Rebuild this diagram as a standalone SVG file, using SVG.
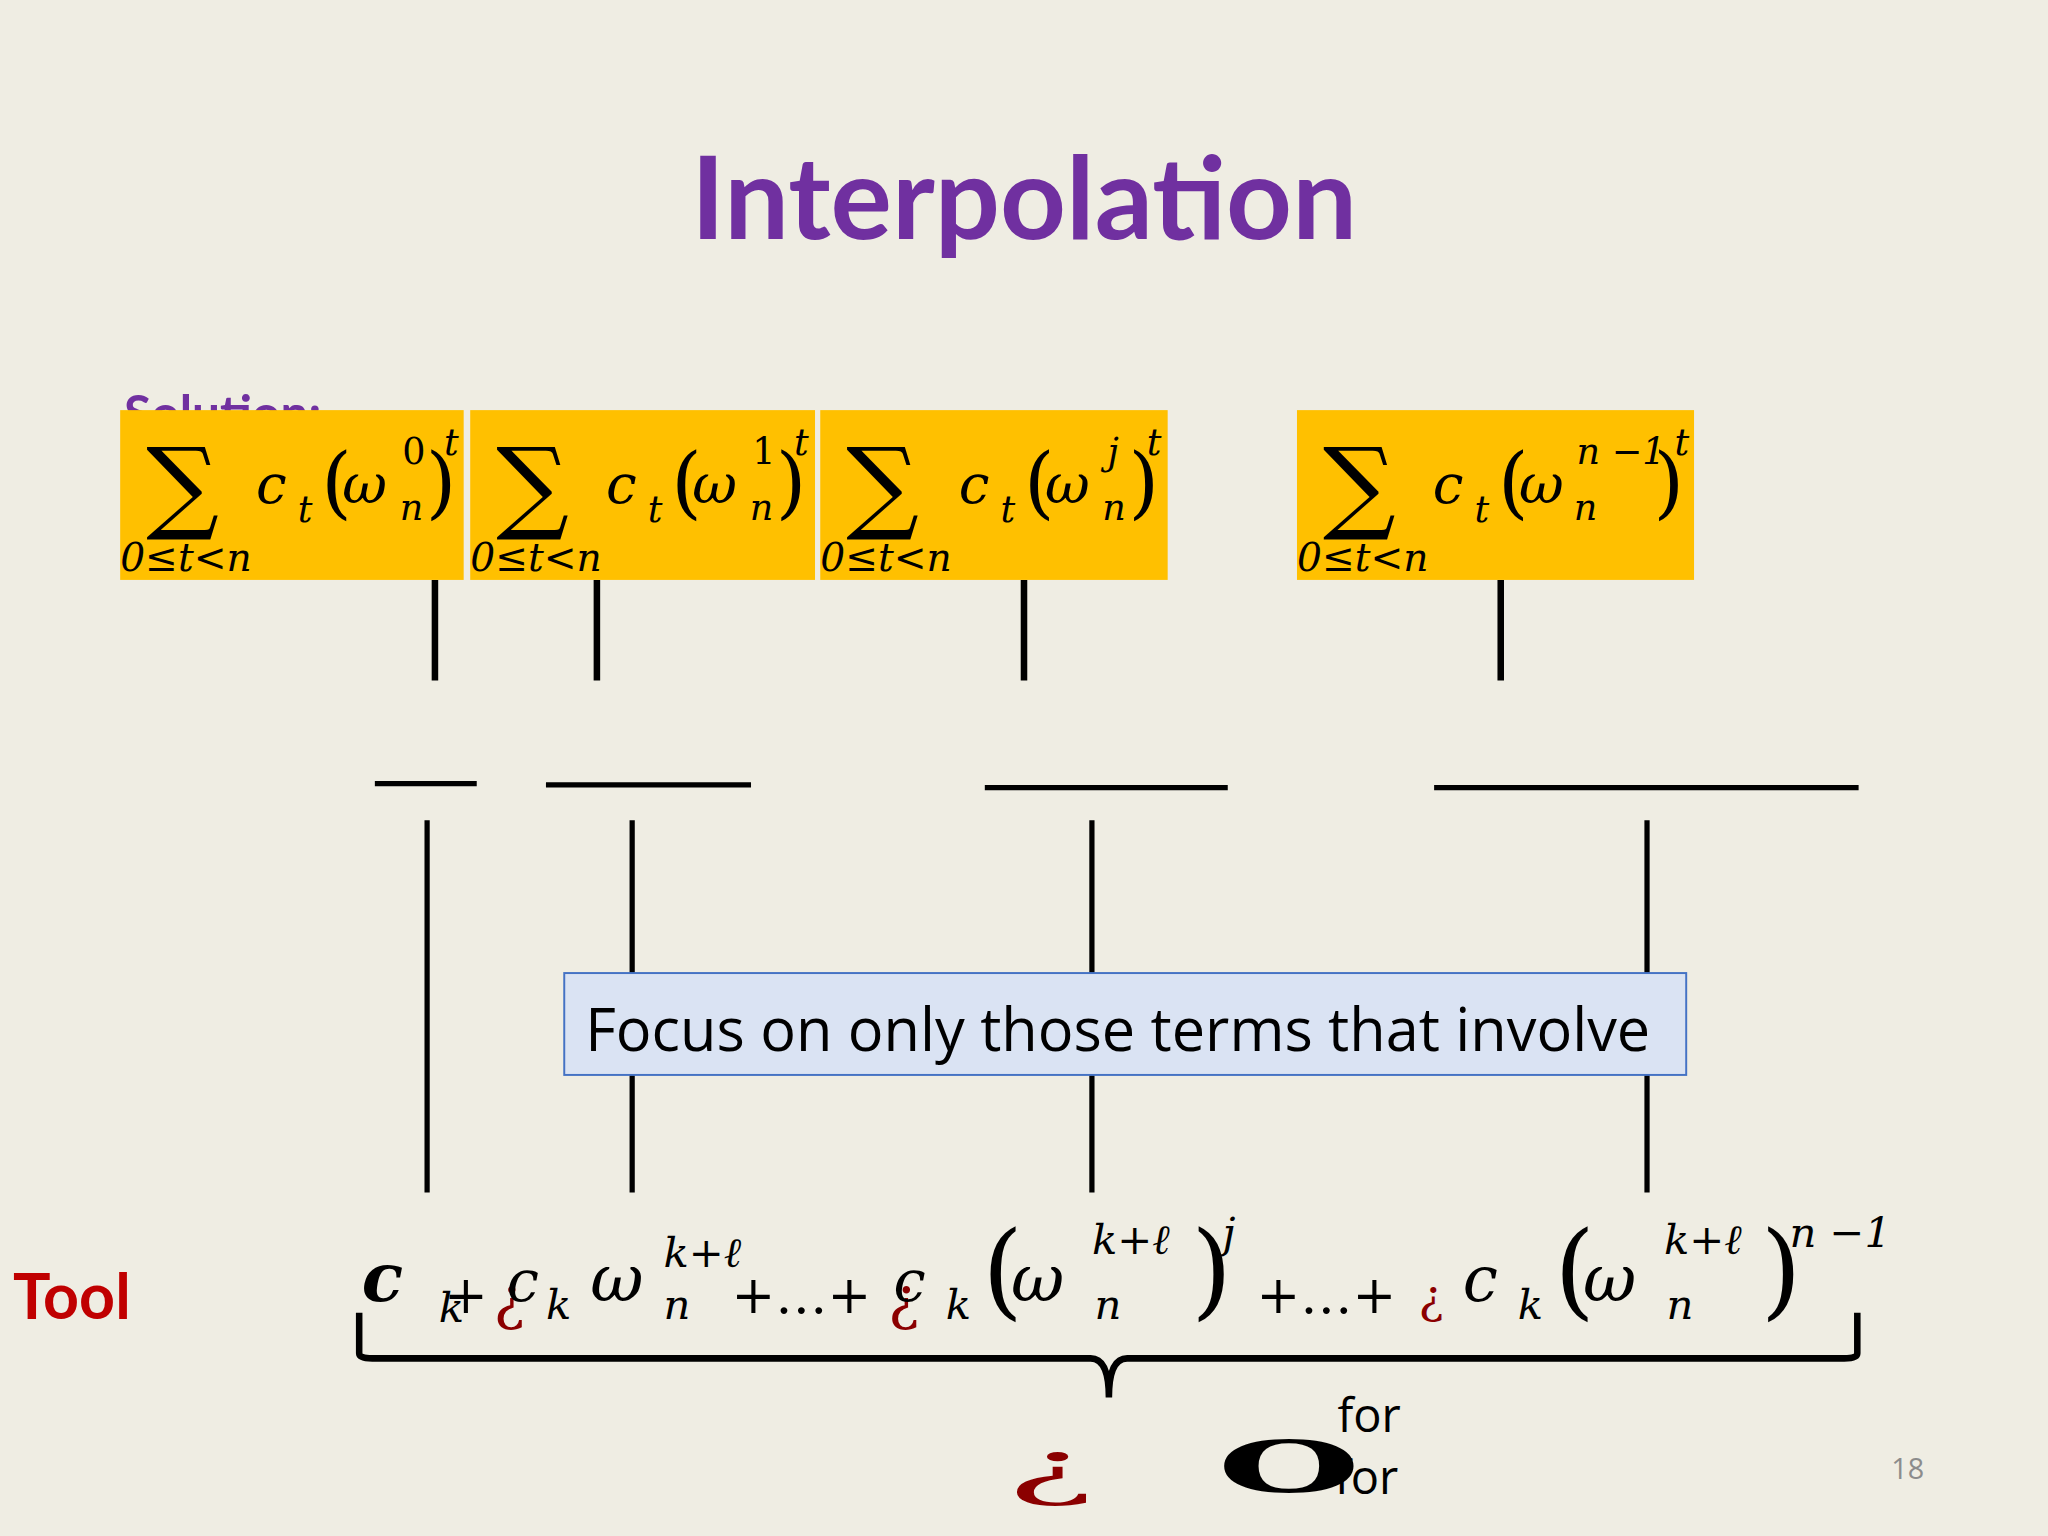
<svg xmlns="http://www.w3.org/2000/svg" width="2048" height="1536" viewBox="0 0 2048 1536">
<style>
.m{font-family:"DejaVu Serif","Liberation Serif",serif;font-style:italic;fill:#000}
.u{font-family:"DejaVu Serif","Liberation Serif",serif;fill:#000}
.ln{stroke:#000;fill:none}
.yb{fill:#FFC000}
.r{fill:#8B0000}
</style>
<rect width="2048" height="1536" fill="#EFEDE3"/>
<g transform="scale(1.30612)">
<text x="784" y="183" text-anchor="middle" font-family="Lato,'Open Sans',sans-serif" font-weight="bold" font-size="88" fill="#7030A0">Interpolation</text>
<text x="95" y="330" font-family="Lato,'Open Sans',sans-serif" font-weight="bold" font-size="38" fill="#7030A0">Solution:</text>
<g id="box0"><rect class="yb" x="92" y="314" width="263" height="130"/>
<text class="u" x="112" y="398" font-size="78">∑</text>
<text class="m" x="196" y="385" font-size="42">c</text><text class="m" x="228" y="400" font-size="28">t</text>
<text class="u" x="246" y="390" font-size="60" font-weight="100">(</text><text class="m" x="262" y="385" font-size="42">ω</text>
<text class="m" x="306" y="398" font-size="28">n</text><text class="u" x="308" y="355" font-size="28">0</text>
<text class="u" x="326" y="390" font-size="60">)</text><text class="m" x="340" y="348" font-size="28">t</text>
<text class="m" x="92" y="437" font-size="30">0≤t&lt;n</text></g>
<g id="box1"><rect class="yb" x="360" y="314" width="264" height="130"/>
<text class="u" x="380" y="398" font-size="78">∑</text>
<text class="m" x="464" y="385" font-size="42">c</text><text class="m" x="496" y="400" font-size="28">t</text>
<text class="u" x="514" y="390" font-size="60">(</text><text class="m" x="530" y="385" font-size="42">ω</text>
<text class="m" x="574" y="398" font-size="28">n</text><text class="u" x="576" y="355" font-size="28">1</text>
<text class="u" x="594" y="390" font-size="60">)</text><text class="m" x="608" y="348" font-size="28">t</text>
<text class="m" x="360" y="437" font-size="30">0≤t&lt;n</text></g>
<g id="box2"><rect class="yb" x="628" y="314" width="266" height="130"/>
<text class="u" x="648" y="398" font-size="78">∑</text>
<text class="m" x="734" y="385" font-size="42">c</text><text class="m" x="766" y="400" font-size="28">t</text>
<text class="u" x="784" y="390" font-size="60">(</text><text class="m" x="800" y="385" font-size="42">ω</text>
<text class="m" x="844" y="398" font-size="28">n</text><text class="m" x="848" y="355" font-size="28">j</text>
<text class="u" x="864" y="390" font-size="60">)</text><text class="m" x="878" y="348" font-size="28">t</text>
<text class="m" x="628" y="437" font-size="30">0≤t&lt;n</text></g>
<g id="box3"><rect class="yb" x="993" y="314" width="304" height="130"/>
<text class="u" x="1013" y="398" font-size="78">∑</text>
<text class="m" x="1097" y="385" font-size="42">c</text><text class="m" x="1129" y="400" font-size="28">t</text>
<text class="u" x="1147" y="390" font-size="60">(</text><text class="m" x="1163" y="385" font-size="42">ω</text>
<text class="m" x="1205" y="398" font-size="28">n</text><text class="m" x="1207" y="355" font-size="28">n −1</text>
<text class="u" x="1266" y="390" font-size="60">)</text><text class="m" x="1282" y="348" font-size="28">t</text>
<text class="m" x="993" y="437" font-size="30">0≤t&lt;n</text></g>
<g id="connectors" class="ln">
<path d="M333 444V521M457 444V521M784 444V521M1149 444V521" stroke-width="5"/>
<path d="M287 600H365M418 601H575M754 603H940M1098 603H1423" stroke-width="4"/>
<path d="M327 628V913M484 628V913M836 628V913M1261 628V913" stroke-width="4"/>
<path d="M275 1005V1036Q275 1040 285 1040H835Q849 1040 849 1070Q849 1040 863 1040H1412Q1422 1040 1422 1036V1005" stroke-width="5"/>
</g>
<g id="focus"><rect x="432" y="745" width="859" height="78" fill="#DAE3F3" stroke="#4472C4" stroke-width="1.5"/>
<text x="448" y="805" font-family="'Open Sans',Lato,sans-serif" font-size="45.5">Focus on only those terms that involve</text></g>
<text x="10" y="1010" font-family="Lato,'Open Sans',sans-serif" font-weight="bold" font-size="48" fill="#C00000">Tool</text>
<g id="formula">
<text class="m" x="277" y="996" font-size="52" font-weight="bold">c</text><text class="m" x="336" y="1012" font-size="32">k</text>
<text class="u" x="340" y="1005" font-size="40">+</text><text class="r" x="378" y="1010" font-size="44" font-family="DejaVu Serif,serif">¿</text>
<text class="m" x="388" y="996" font-size="44">c</text><text class="m" x="418" y="1010" font-size="32">k</text>
<text class="m" x="452" y="996" font-size="50">ω</text><text class="m" x="508" y="1010" font-size="32">n</text><text class="m" x="508" y="970" font-size="32">k+ℓ</text>
<text class="u" x="560" y="1005" font-size="40">+…+</text><text class="r" x="680" y="1010" font-size="44" font-family="DejaVu Serif,serif">¿</text>
<text class="m" x="684" y="996" font-size="44">c</text><text class="m" x="724" y="1010" font-size="32">k</text>
<text class="u" x="752" y="1000" font-size="80">(</text><text class="m" x="774" y="996" font-size="50">ω</text>
<text class="m" x="838" y="1010" font-size="32">n</text><text class="m" x="836" y="960" font-size="32">k+ℓ</text>
<text class="u" x="912" y="1000" font-size="80">)</text><text class="m" x="936" y="955" font-size="32">j</text>
<text class="u" x="962" y="1005" font-size="40">+…+</text><text class="r" x="1086" y="1005" font-size="36" font-family="DejaVu Serif,serif">¿</text>
<text class="m" x="1120" y="996" font-size="48">c</text><text class="m" x="1162" y="1010" font-size="32">k</text>
<text class="u" x="1190" y="1000" font-size="80">(</text><text class="m" x="1212" y="996" font-size="50">ω</text>
<text class="m" x="1276" y="1010" font-size="32">n</text><text class="m" x="1274" y="960" font-size="32">k+ℓ</text>
<text class="u" x="1348" y="1000" font-size="80">)</text><text class="m" x="1370" y="955" font-size="32">n −1</text>
</g>
<text class="r" x="770" y="1142" font-size="90" font-family="DejaVu Serif,serif" transform="translate(770 1142) scale(1.4 0.6) translate(-770 -1142)">¿</text>
<text x="932" y="1142" font-family="DejaVu Serif,serif" font-weight="bold" font-size="90" transform="translate(932 1142) scale(1.4 0.6) translate(-932 -1142)">O</text>
<text x="1024" y="1096" font-family="'Open Sans',sans-serif" font-size="36">for</text>
<text x="1022" y="1144" font-family="'Open Sans',sans-serif" font-size="36">for</text>
<text x="1448" y="1132" font-family="'Open Sans',sans-serif" font-size="22" fill="#8c8c8c">18</text>
</g>
</svg>
